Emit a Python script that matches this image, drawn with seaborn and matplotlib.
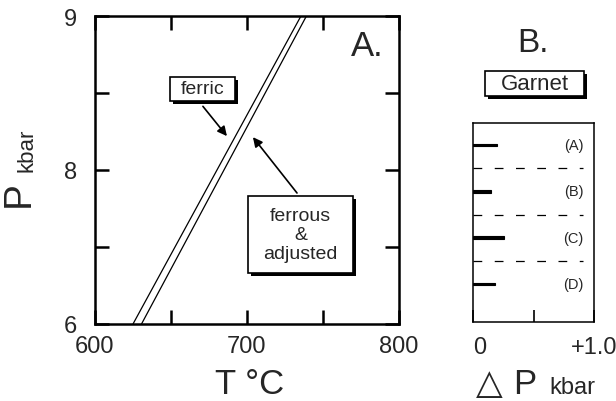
import numpy as np
import pandas as pd
import matplotlib
matplotlib.use('Agg')
import matplotlib.pyplot as plt
import matplotlib.patches as mpatches
import matplotlib.patheffects as pe
import seaborn as sns

# Panel A: the two isopleths, given by their temperatures at the P limits of the frame
p_limits = [6.0, 9.0]
ferric_T = [625.0, 735.5]
ferrous_T = [630.6, 739.1]
t_ticks = [600, 650, 700, 750, 800]
t_tick_labels = ['600', '', '700', '', '800']
p_ticks = [6.0, 6.75, 7.5, 8.25, 9.0]
p_tick_labels = ['6', '', '8', '', '9']

# Panel B: pressure shift for garnet in cases A-D
cases = ['(A)', '(B)', '(C)', '(D)']
delta_p = [0.20, 0.15, 0.26, 0.18]
dp_ticks = [0.0, 0.5, 1.0]
dp_tick_labels = ['0', '', '+1.0']

W, H = 616, 402
sns.set_style('ticks')
plt.rcParams['font.family'] = ['Liberation Sans', 'DejaVu Sans']

fig = plt.figure(figsize=(W / 100, H / 100), dpi=100)


def frect(x0, y0, x1, y1):
    """Pixel box (origin top-left) -> figure-fraction rect."""
    return [x0 / W, 1 - y1 / H, (x1 - x0) / W, (y1 - y0) / H]


def fxy(x, y):
    return x / W, 1 - y / H


def boxed(x0, y0, x1, y1, text, size, linespacing=1.15):
    rect = mpatches.Rectangle(
        fxy(x0, y1), (x1 - x0) / W, (y1 - y0) / H, transform=fig.transFigure,
        facecolor='white', edgecolor='k', lw=1.2, zorder=5,
        path_effects=[pe.withSimplePatchShadow(offset=(2.2, -2.2),
                                               shadow_rgbFace='k', alpha=1)])
    fig.add_artist(rect)
    fig.text(*fxy((x0 + x1) / 2, (y0 + y1) / 2), text, ha='center', va='center',
             fontsize=size, zorder=6, linespacing=linespacing)


# ---------------- Panel A ----------------
axA = fig.add_axes(frect(95, 17, 399, 325))
sns.lineplot(x=ferric_T, y=p_limits, ax=axA, color='k', lw=0.9, sort=False)
sns.lineplot(x=ferrous_T, y=p_limits, ax=axA, color='k', lw=0.9, sort=False)
axA.set_xlim(600, 800)
axA.set_ylim(6, 9)
axA.set_xticks(t_ticks, t_tick_labels)
axA.set_yticks(p_ticks, p_tick_labels)
axA.tick_params(direction='in', top=True, right=True, length=10, width=1.8,
                labelsize=17, color='k')
axA.tick_params(axis='x', pad=8)
axA.tick_params(axis='y', pad=13)
for s in axA.spines.values():
    s.set_linewidth(1.8)
    s.set_color('k')
axA.set_xlabel('')
axA.set_ylabel('')

arrow_kw = dict(arrowstyle='-|>', color='k', lw=1.2, mutation_scale=14,
                shrinkA=0, shrinkB=0)
axA.annotate('', xy=(686.8, 7.83), xytext=(671.0, 8.12), arrowprops=arrow_kw)
axA.annotate('', xy=(703.9, 7.82), xytext=(732.9, 7.276), arrowprops=arrow_kw)

boxed(170, 78, 235, 102, 'ferric', 14)
boxed(248, 197, 353, 274, 'ferrous\n&\nadjusted', 14)
fig.text(*fxy(367, 47), 'A.', ha='center', va='center', fontsize=25)

fig.text(*fxy(37, 194), 'P', rotation=90, ha='right', va='center', fontsize=28)
fig.text(*fxy(37, 150), 'kbar', rotation=90, ha='right', va='center', fontsize=16)
fig.text(*fxy(250, 394), 'T °C', ha='center', va='baseline', fontsize=25)

# ---------------- Panel B ----------------
axB = fig.add_axes(frect(473, 124, 594, 323))
df = pd.DataFrame({'case': cases, 'dp': delta_p})
sns.barplot(data=df, x='dp', y='case', orient='h', color='k', width=0.06,
            saturation=1, edgecolor='k', linewidth=0.8, ax=axB)
axB.set_xlim(0, 1)
axB.set_ylim(3.82, -0.475)
for yv in [0.5, 1.5, 2.5]:
    axB.axhline(yv, xmax=0.91, color='k', lw=0.9, ls=(0, (7, 10)))
for i, c in enumerate(cases):
    axB.text(0.83, i, c, ha='center', va='center', fontsize=10.5)
axB.set_yticks([])
axB.set_xticks(dp_ticks, dp_tick_labels)
axB.tick_params(axis='x', direction='in', length=9, width=1.2, labelsize=17,
                pad=10, color='k')
axB.get_xticklabels()[0].set_horizontalalignment('left')
for s in axB.spines.values():
    s.set_linewidth(1.1)
    s.set_color('k')
axB.set_xlabel('')
axB.set_ylabel('')

fig.text(*fxy(533, 43), 'B.', ha='center', va='center', fontsize=24)
boxed(485, 72, 584, 97, 'Garnet', 16)

fig.text(*fxy(476, 394), '△', ha='left', va='baseline', fontsize=25,
         family=['DejaVu Sans'])
fig.text(*fxy(513, 394), 'P', ha='left', va='baseline', fontsize=25)
fig.text(*fxy(549, 394), 'kbar', ha='left', va='baseline', fontsize=17)

fig.savefig('out.png', dpi=100)
